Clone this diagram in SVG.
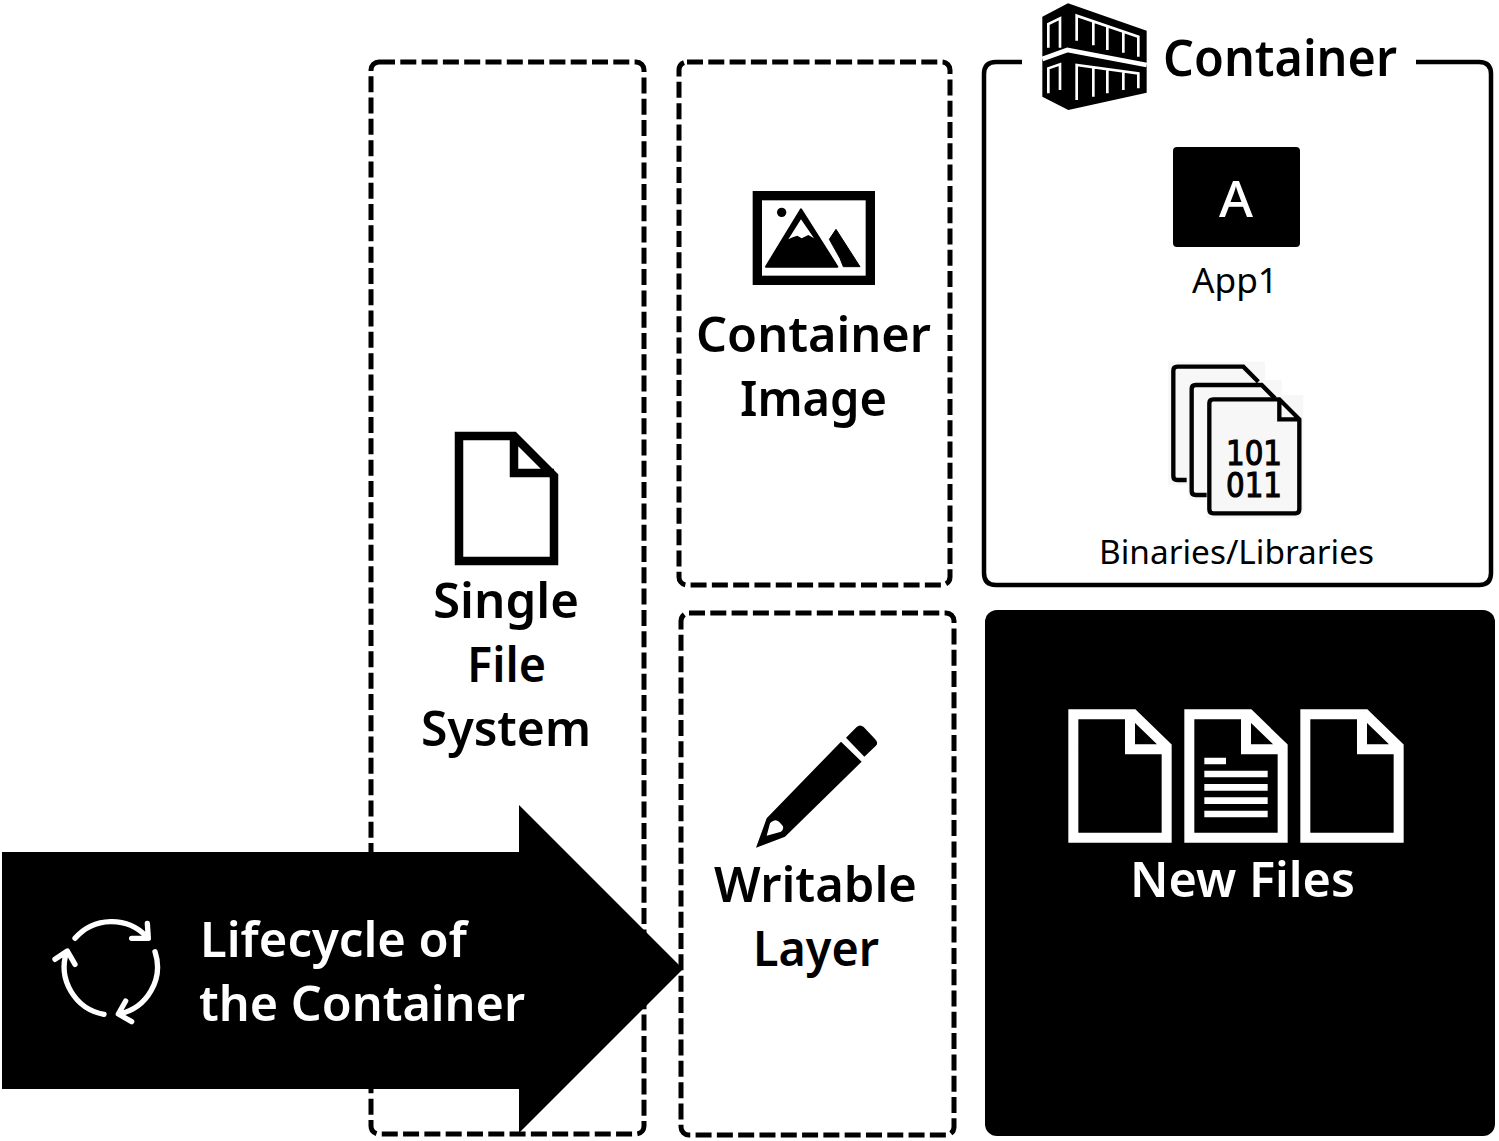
<svg xmlns="http://www.w3.org/2000/svg" width="1499" height="1141" viewBox="0 0 1499 1141">
<style>
text{font-family:"Noto Sans","Open Sans","Liberation Sans",sans-serif;fill:#000}
.b{font-size:49px;font-weight:600;text-anchor:start}
.s{font-size:35px;font-weight:400}
.w{fill:#fff}
.dash{fill:none;stroke:#000;stroke-width:5;stroke-dasharray:16 5.3}
.pg{fill:none;stroke:#fff;stroke-width:30;stroke-miterlimit:10}
</style>
<defs>
<path id="pg" class="pg" d="M70,73H250L350,170V443H70ZM240,73V178H350"/>
</defs>
<rect width="1499" height="1141" fill="#fff"/>

<g id="single-file-system">
<rect class="dash" x="371" y="62" width="273" height="1072" rx="8"/>
<path d="M459,436H514L554,476V561H459ZM514,436V473H554" fill="none" stroke="#000" stroke-width="8.5"/>
<text class="b" x="433" y="618" textLength="146" lengthAdjust="spacingAndGlyphs">Single</text>
<text class="b" x="467" y="682" textLength="79" lengthAdjust="spacingAndGlyphs">File</text>
<text class="b" x="421" y="746" textLength="170" lengthAdjust="spacingAndGlyphs">System</text>
</g>

<g id="container-image">
<rect class="dash" x="679" y="62" width="271" height="523" rx="8"/>
<g transform="translate(740,180) scale(.33333)">
<rect x="52" y="47" width="339" height="254" fill="none" stroke="#000" stroke-width="28"/>
<circle cx="125" cy="97" r="14"/>
<path d="M78,260L183,88L292,260Z" stroke="#000" stroke-width="6" stroke-linejoin="round"/>
<path d="M145,178L183,118L222,175L205,165L185,175L172,167L158,172Z" fill="#fff"/>
<path d="M268,178L288,148L360,260H310L300,235Z" stroke="#000" stroke-width="3" stroke-linejoin="round"/>
</g>
<text class="b" x="696" y="352" textLength="235" lengthAdjust="spacingAndGlyphs">Container</text>
<text class="b" x="740" y="416" textLength="147" lengthAdjust="spacingAndGlyphs">Image</text>
</g>

<g id="writable-layer">
<rect class="dash" x="681" y="613" width="273" height="522" rx="8"/>
<g transform="translate(745,715) scale(.33333)">
<path d="M303,68L335,36Q345,27 356,36L390,72Q402,84 392,93L358,125Z"/>
<path d="M288,80L350,140L120,365L33,398L65,310ZM65,362L108,350Q118,342 113,332L102,320Q92,311 80,320L75,325Z" fill-rule="evenodd"/>
</g>
<text class="b" x="714" y="902" textLength="203" lengthAdjust="spacingAndGlyphs">Writable</text>
<text class="b" x="753" y="966" textLength="126" lengthAdjust="spacingAndGlyphs">Layer</text>
</g>

<g id="container">
<path d="M1022,62H996Q984,62 984,74V573Q984,585 996,585H1479Q1491,585 1491,573V74Q1491,62 1479,62H1416" fill="none" stroke="#000" stroke-width="4.5"/>
<g transform="translate(980,0) scale(.33333)">
<path d="M187,50L264,10L500,92V278L265,330L187,290Z"/>
<path d="M187,177L262,150L500,195" fill="none" stroke="#fff" stroke-width="14"/>
<path d="M205,143V72L240,55V143M290,122V47L475,110V170M340,62V136M382,77V150M430,93V158M205,280V205L240,193V270M290,300V195L475,220V265M340,202V290M382,208V280M430,214V270" fill="none" stroke="#fff" stroke-width="8"/>
</g>
<text x="1163" y="76" font-size="50" font-weight="600" textLength="234" lengthAdjust="spacingAndGlyphs">Container</text>
<rect x="1173" y="147" width="127" height="100" rx="4"/>
<text class="w" x="1219" y="217" font-size="50" font-weight="500" textLength="34" lengthAdjust="spacingAndGlyphs">A</text>
<text class="s" x="1192" y="293" textLength="86" lengthAdjust="spacingAndGlyphs">App1</text>
<g transform="translate(1150,350) scale(.33333)">
<rect x="55" y="35" width="290" height="370" fill="#f7f7f7"/>
<rect x="115" y="90" width="280" height="360" fill="#f7f7f7"/>
<rect x="170" y="135" width="290" height="370" fill="#f7f7f7"/>
<path d="M110,390H82Q70,390 70,378V62Q70,50 82,50H280L325,95M170,435H137Q125,435 125,423V117Q125,105 137,105H335L375,145" fill="none" stroke="#000" stroke-width="13"/>
<path d="M190,148H388L448,208V478Q448,490 436,490H190Q178,490 178,478V160Q178,148 190,148ZM388,150V208H448" fill="none" stroke="#000" stroke-width="13"/>
</g>
<text font-size="34" style="font-family:'DejaVu Sans',sans-serif" font-weight="400" stroke="#000" stroke-width="1.2"><tspan x="1226" y="465" textLength="56" lengthAdjust="spacingAndGlyphs">101</tspan><tspan x="1226" y="497" textLength="56" lengthAdjust="spacingAndGlyphs">011</tspan></text>
<text x="1099" y="564" font-size="33" textLength="275" lengthAdjust="spacingAndGlyphs">Binaries/Libraries</text>
</g>

<g id="new-files">
<rect x="985" y="610" width="510" height="526" rx="12"/>
<g transform="translate(1050,690) scale(.33333)">
<use href="#pg"/>
<use href="#pg" x="348"/>
<use href="#pg" x="696"/>
<path fill="#fff" d="M463,203h65v20h-65zM463,242h190v20h-190zM463,282h190v20h-190zM463,322h190v20h-190zM463,362h190v20h-190z"/>
</g>
<text class="b w" x="1130" y="897" textLength="225" lengthAdjust="spacingAndGlyphs">New Files</text>
</g>

<g id="lifecycle">
<path d="M2,852H519V805L683,969L519,1133V1089H2Z"/>
<g transform="translate(30,900) scale(.33333)" fill="none" stroke="#fff" stroke-width="16" stroke-linecap="round" stroke-linejoin="round">
<path d="M135,115A145,145 0 0 1 350,110M352,70L355,115H305"/>
<path d="M375,155A145,145 0 0 1 268,342M287,303L265,342L305,365"/>
<path d="M222,343A145,145 0 0 1 110,155M75,178L112,153L135,193"/>
</g>
<text class="b w" x="200" y="957" textLength="267" lengthAdjust="spacingAndGlyphs">Lifecycle of</text>
<text class="b w" x="199" y="1021" textLength="326" lengthAdjust="spacingAndGlyphs">the Container</text>
</g>

<g id="connectors"/>
</svg>
